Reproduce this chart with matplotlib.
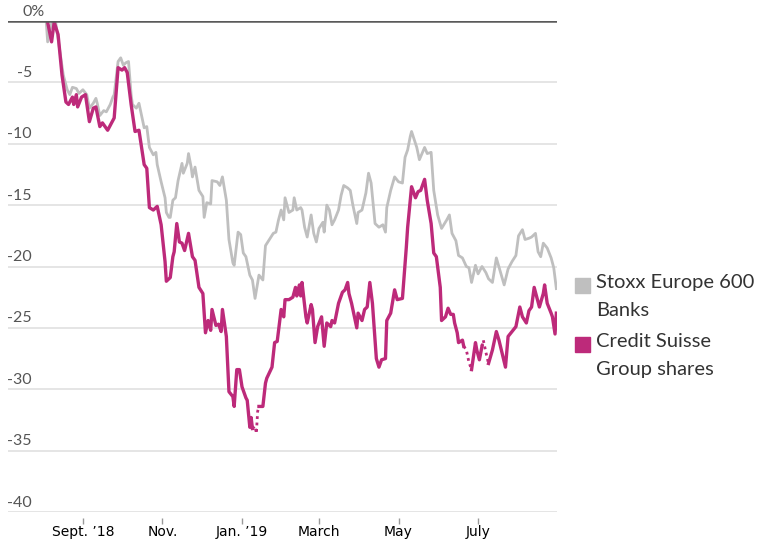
import numpy as np
import matplotlib.pyplot as plt
import matplotlib.dates as mdates
from matplotlib.patches import Rectangle

start = np.datetime64('2018-08-01')

# days after 1 Aug 2018 and % change since start
stoxx_days = [3, 4, 7, 10, 13, 16, 19, 21, 23, 26, 28, 31, 34, 36, 39, 41, 42, 44, 47, 49,
              52, 54, 55, 58, 60, 62, 64, 66, 68, 69, 72, 74, 76, 78, 80, 82, 85, 87, 88, 91,
              94, 95, 97, 98, 100, 102, 104, 107, 108, 111, 112, 114, 115, 117, 120, 123, 124, 126, 129, 130,
              134, 136, 138, 141, 143, 146, 147, 150, 152, 154, 156, 159, 161, 163, 166, 169, 171, 174, 177, 179,
              181, 183, 185, 186, 189, 192, 193, 195, 198, 199, 201, 203, 206, 208, 210, 212, 215, 216, 218, 220,
              222, 224, 227, 229, 231, 234, 236, 238, 241, 242, 245, 248, 250, 252, 255, 258, 261, 263, 264, 267,
              270, 273, 276, 278, 280, 282, 283, 287, 289, 293, 295, 298, 300, 303, 306, 310, 312, 314, 317, 319,
              322, 325, 327, 329, 332, 334, 337, 340, 342, 345, 348, 351, 354, 357, 360, 363, 365, 368, 370, 373,
              375, 378, 380, 382, 384, 387, 390, 392, 394]
stoxx_vals = [-0.2, -1.7, -0.2, 0.0, -2.2, -4.4, -5.6, -6.0, -5.4, -5.5, -5.9, -5.6, -6.0, -7.1, -6.7, -6.3, -6.7, -7.7, -7.3, -7.4,
              -6.8, -6.2, -6.0, -3.3, -3.0, -3.6, -3.4, -3.3, -6.0, -6.8, -7.1, -6.7, -7.7, -8.7, -8.6, -10.3, -10.9, -10.7, -11.7, -13.1,
              -14.4, -15.6, -16.0, -16.0, -14.6, -14.4, -13.0, -11.6, -12.4, -11.6, -10.8, -11.9, -12.7, -11.9, -13.8, -14.3, -16.0, -14.8, -14.9, -13.0,
              -13.1, -13.4, -12.7, -14.6, -17.8, -19.7, -19.9, -17.2, -17.4, -18.9, -19.2, -20.7, -21.1, -22.6, -20.7, -21.1, -18.3, -17.8, -17.3, -17.2,
              -16.2, -15.4, -16.2, -14.4, -15.6, -15.4, -14.4, -15.4, -15.2, -15.4, -16.8, -17.6, -15.8, -17.3, -18.0, -16.9, -16.4, -17.2, -15.0, -15.4,
              -16.6, -16.2, -15.4, -14.2, -13.4, -13.6, -13.8, -15.0, -16.5, -15.6, -15.4, -14.0, -12.4, -13.2, -16.5, -16.8, -16.6, -17.2, -15.2, -13.8,
              -12.7, -13.1, -13.2, -11.1, -10.5, -9.4, -9.0, -10.3, -11.3, -10.3, -10.8, -10.7, -13.8, -15.8, -16.9, -16.2, -15.8, -17.3, -17.9, -19.1,
              -19.3, -20.0, -20.1, -21.3, -19.9, -20.6, -20.0, -20.5, -21.0, -21.3, -19.3, -20.4, -21.5, -20.2, -19.6, -19.1, -17.5, -17.0, -17.8, -17.7,
              -17.6, -17.3, -18.8, -19.2, -18.1, -18.5, -19.3, -20.1, -21.8]

cs_days = [4, 7, 9, 12, 15, 18, 20, 23, 24, 26, 27, 30, 33, 36, 39, 41, 44, 46, 50, 54,
           55, 58, 61, 63, 65, 68, 71, 74, 78, 80, 82, 85, 88, 91, 94, 95, 98, 100, 101, 103,
           105, 107, 109, 112, 115, 117, 120, 123, 125, 127, 129, 130, 133, 135, 137, 138, 141, 143, 146, 147,
           149, 151, 153, 156, 157, 159, 160, 161, 163, 164, 165, 166, 169, 171, 172, 176, 178, 180, 183, 185,
           186, 189, 192, 194, 195, 197, 198, 199, 202, 203, 206, 207, 209, 211, 214, 216, 218, 221, 222, 224,
           227, 230, 232, 234, 235, 237, 241, 242, 245, 247, 249, 251, 253, 256, 258, 260, 263, 264, 267, 270,
           272, 276, 279, 280, 283, 286, 288, 290, 293, 295, 298, 300, 302, 305, 306, 309, 311, 313, 315, 316,
           318, 319, 322, 323, 325, 327, 329, 332, 333, 335, 337, 338, 340, 342, 345, 348, 350, 355, 357, 360,
           363, 366, 368, 371, 373, 375, 377, 379, 381, 384, 385, 387, 390, 391, 393, 394]
cs_vals = [-0.1, -1.7, -0.1, -1.1, -4.4, -6.6, -6.8, -6.2, -6.8, -6.0, -7.0, -6.2, -6.0, -8.2, -7.1, -7.0, -8.6, -8.3, -8.9, -8.1,
           -7.9, -3.8, -4.0, -3.8, -4.2, -6.8, -9.0, -8.9, -11.7, -12.0, -15.2, -15.4, -15.1, -16.6, -19.6, -21.2, -20.9, -19.2, -18.8, -16.5,
           -18.0, -18.1, -18.7, -17.3, -19.2, -19.5, -21.7, -22.2, -25.4, -24.4, -25.2, -23.5, -24.8, -24.7, -25.3, -23.5, -25.7, -30.2, -30.6, -31.4,
           -28.4, -28.4, -29.8, -30.7, -30.9, -33.1, -32.3, -33.2, -33.0, -33.6, -31.8, -31.4, -31.4, -29.5, -29.1, -28.2, -26.2, -26.1, -23.5, -24.1,
           -22.7, -22.7, -22.5, -21.7, -22.4, -21.5, -22.4, -21.3, -24.1, -24.6, -23.1, -23.5, -26.2, -24.9, -24.1, -26.5, -24.6, -24.9, -24.4, -24.6,
           -23.0, -22.1, -21.9, -21.3, -22.2, -23.0, -25.0, -23.8, -24.4, -23.5, -23.3, -21.3, -23.0, -27.5, -28.2, -27.6, -27.5, -24.4, -23.8, -21.9,
           -22.7, -22.6, -18.4, -16.8, -13.5, -14.4, -13.9, -13.8, -12.9, -14.6, -16.5, -18.9, -19.2, -21.7, -24.4, -24.1, -23.4, -23.9, -23.9, -24.6,
           -25.4, -26.2, -26.0, -26.5, -26.8, -27.8, -28.4, -26.2, -26.8, -27.6, -26.5, -26.0, -27.0, -27.9, -26.8, -25.3, -26.0, -28.2, -25.7, -25.3,
           -24.9, -23.3, -24.1, -24.6, -23.6, -23.3, -21.7, -22.5, -23.3, -22.2, -21.5, -23.0, -23.8, -24.1, -25.5, -23.8]

# stretches drawn dotted (days)
cs_gaps = [(161, 166), (323, 329), (337, 342)]

tick_dates = ['2018-09-01', '2018-11-01', '2019-01-01', '2019-03-01', '2019-05-01', '2019-07-01']
tick_labels = ['Sept. \u201918', 'Nov.', 'Jan. \u201919', 'March', 'May', 'July']
y_ticks = [0, -5, -10, -15, -20, -25, -30, -35, -40]

gray = '#bfbfbf'
magenta = '#bd2a7a'

fig = plt.figure(figsize=(7.59, 5.41), dpi=100)
ax = fig.add_axes([8 / 759, 1 - 512 / 541, 549 / 759, 491 / 541])

t0 = mdates.date2num(start)
sx = t0 + np.array(stoxx_days)
cx = t0 + np.array(cs_days)
cv = np.array(cs_vals, dtype=float)
cd = np.array(cs_days)

solid = cv.copy()
for a, b in cs_gaps:
    solid[(cd > a) & (cd < b)] = np.nan

ax.plot(sx, stoxx_vals, color=gray, lw=2.0, solid_joinstyle='round', zorder=3)
ax.plot(cx, solid, color=magenta, lw=2.4, solid_joinstyle='round', zorder=4)
for a, b in cs_gaps:
    m = (cd >= a) & (cd <= b)
    ax.plot(cx[m], cv[m], color=magenta, lw=2.0, linestyle=(0, (1, 1.3)), zorder=4)

# gridlines
for v in y_ticks:
    if v == 0:
        ax.axhline(v, color='#5a5a5a', lw=1.8, zorder=5)
    else:
        ax.axhline(v, color='#e3e3e3', lw=1.3, zorder=1)

for v in y_ticks:
    if v == 0:
        ax.text(0.027, v + 0.2, '0%', transform=ax.get_yaxis_transform(), ha='left', va='bottom',
                fontsize=11.5, color='#555555', family=['Lato', 'DejaVu Sans'])
    else:
        ax.text(0.0437, v + 0.2, str(v), transform=ax.get_yaxis_transform(), ha='right', va='bottom',
                fontsize=11.5, color='#555555', family=['Lato', 'DejaVu Sans'])

ax.set_ylim(-40, 0)
ax.set_xlim(t0 - 26.4, t0 + 394.5)
ax.set_yticks([])
ax.set_xticks([mdates.date2num(np.datetime64(d)) for d in tick_dates])
ax.set_xticklabels(tick_labels, family=['DejaVu Sans'], stretch='condensed', fontsize=12, color='#333333')
ax.tick_params(axis='x', length=4, width=1, color='#999999', pad=1.5)
for s in ax.spines.values():
    s.set_visible(False)
ax.spines['bottom'].set_position(('outward', 4))

# legend
items = [(gray, 'Stoxx Europe 600\nBanks', 278), (magenta, 'Credit Suisse\nGroup shares', 337)]
for col, label, ytop in items:
    fig.patches.append(Rectangle((575 / 759, 1 - (ytop + 15) / 541), 15 / 759, 15 / 541,
                                 transform=fig.transFigure, color=col))
    fig.text(596 / 759, 1 - (ytop - 4) / 541, label, ha='left', va='top', fontsize=14.5,
             color='#333333', linespacing=1.75, family=['Lato', 'DejaVu Sans'])

fig.savefig('out.png', dpi=100)
